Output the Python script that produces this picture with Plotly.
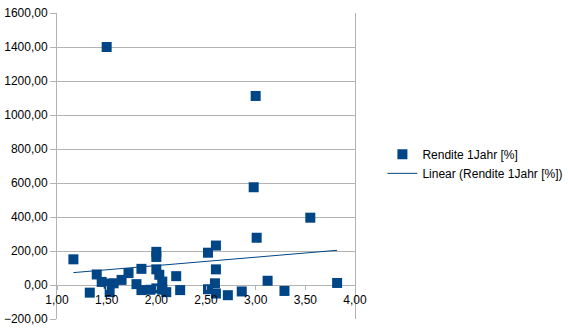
import numpy as np
import plotly.graph_objects as go

# Kennzahl (x) vs. Rendite 1 Jahr in %
kennzahl = [1.165, 1.33, 1.40, 1.45, 1.50, 1.52, 1.53, 1.57, 1.65, 1.72,
            1.80, 1.85, 1.85, 1.94, 2.00, 2.00, 2.00, 2.00, 2.03, 2.06,
            2.06, 2.10, 2.20, 2.24, 2.52, 2.60, 2.60, 2.59, 2.52, 2.60,
            2.72, 2.86, 2.98, 3.00, 3.01, 3.12, 3.29, 3.55, 3.82]
rendite = [151, -45, 62, 18, 1400, 8, -42, 10, 30, 70,
           5, 95, -30, -28, 195, 165, 92, -20, 60, 20,
           -28, -42, 52, -30, 190, 232, 92, 10, -25, -50,
           -60, -38, 575, 1112, 278, 25, -35, 396, 12]

series_name = "Rendite 1Jahr [%]"
trend_name = "Linear (Rendite 1Jahr [%])"
blue = "#004586"

x = np.array(kennzahl, dtype=float)
y = np.array(rendite, dtype=float)
slope, intercept = np.polyfit(x, y, 1)
tx = np.array([x.min(), x.max()])
ty = slope * tx + intercept

fig = go.Figure()
fig.add_trace(go.Scatter(
    x=kennzahl, y=rendite, mode="markers", name=series_name,
    marker=dict(symbol="square", size=10, color=blue, line=dict(width=0)),
))
fig.add_trace(go.Scatter(
    x=tx, y=ty, mode="lines", name=trend_name,
    line=dict(color=blue, width=1),
))

font = dict(family="Liberation Sans, Arial, sans-serif", size=12, color="#000000")

fig.update_layout(
    width=568, height=330,
    margin=dict(l=57, r=213, t=13, b=11, autoexpand=False),
    paper_bgcolor="white", plot_bgcolor="white",
    separators=",.",
    font=font,
    showlegend=True,
    legend=dict(x=1.092, y=0.507, xanchor="left", yanchor="middle",
                font=font, bgcolor="rgba(0,0,0,0)", tracegroupgap=0),
    xaxis=dict(
        range=[1, 4], dtick=0.5, tick0=1, tickformat=".2f",
        showgrid=False, zeroline=False,
        showline=False, automargin=False,
        anchor="free", position=200 / 1800,
        ticks="outside", ticklen=4, tickcolor="#b3b3b3",
        tickfont=font,
    ),
    yaxis=dict(
        range=[-200, 1600], dtick=200, tickformat=".2f",
        showgrid=True, gridcolor="#b3b3b3", gridwidth=1,
        zeroline=True, zerolinecolor="#b3b3b3", zerolinewidth=1,
        showline=True, linecolor="#b3b3b3", linewidth=1, mirror=True,
        ticks="outside", ticklen=6, tickcolor="#b3b3b3",
        tickfont=font, automargin=False,
    ),
)

fig.write_html("out.html")
